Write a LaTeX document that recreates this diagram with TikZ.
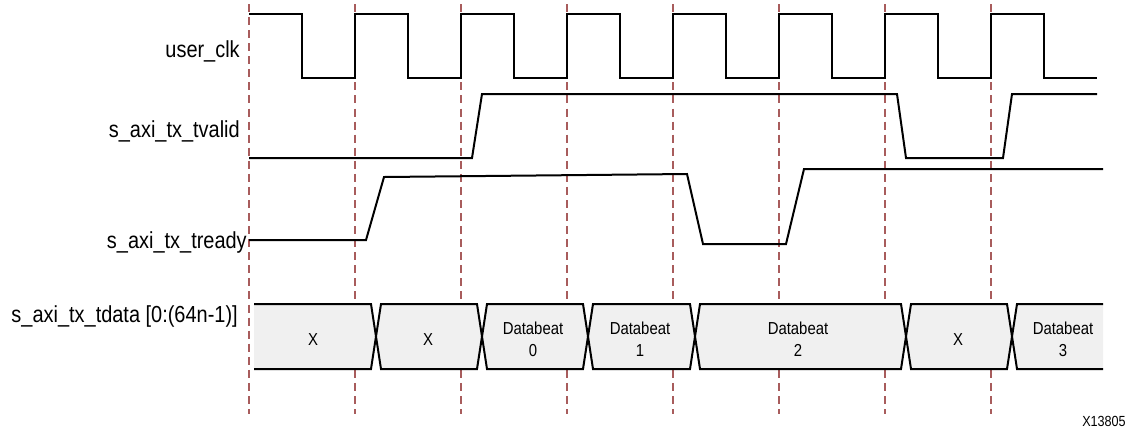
\documentclass[tikz,border=0pt]{standalone}
\usepackage{fontspec}
\setmainfont{Liberation Sans}
\newfontfamily\narrowsans[FakeStretch=0.86]{Liberation Sans}
\definecolor{gridred}{RGB}{168,92,92}
\definecolor{busgray}{RGB}{240,240,240}
\tikzset{
  gridline/.style={gridred, line width=0.8pt, dash pattern=on 6pt off 3.8pt},
  sig/.style={black, line width=1.5pt, line join=miter},
  busline/.style={black, line width=1.5pt, line join=miter},
  busfill/.style={fill=busgray, draw=none},
  lbl/.style={font=\narrowsans\fontsize{17.4}{20}\selectfont, inner sep=0pt, anchor=base east},
  btxt/.style={font=\narrowsans\fontsize{13}{16.5}\selectfont, align=center, inner sep=0pt},
  tag/.style={font=\narrowsans\fontsize{11}{12}\selectfont, inner sep=0pt, anchor=east},
}
\begin{document}
\begin{tikzpicture}[x=0.75pt, y=-0.75pt]
\path[use as bounding box] (0,0) rectangle (1134,433);
% dashed clock grid
\foreach \gx in {249,355,461,567,673,779,885,991}
  \draw[gridline] (\gx,4) -- (\gx,414);
% labels
\node[lbl] (lclk) at (240,57) {user\_clk};
\node[lbl] (lvalid) at (240,137) {s\_axi\_tx\_tvalid};
\node[lbl] (lready) at (247,248) {s\_axi\_tx\_tready};
\node[lbl] (ldata) at (238,322) {s\_axi\_tx\_tdata [0:(64n-1)]};
% clock
\draw[sig] (249,14)
  \foreach \k in {0,...,6} {
    -- ({302+106*\k},14) -- ({302+106*\k},78) -- ({355+106*\k},78) -- ({355+106*\k},14)
  }
  -- (1044,14) -- (1044,78) -- (1097,78);
% valid
\draw[sig] (249,158) -- (472,158) -- (482,94) -- (897,94) -- (906,158) -- (1003,158) -- (1012,94) -- (1097,94);
% ready
\draw[sig] (249,240) -- (366,240) -- (384,177) -- (687,174) -- (703,244) -- (786,244) -- (804,169) -- (1103,169);
% bus
\def\bt{304}\def\bb{369}\def\bm{336.5}
% first segment (open left)
\fill[busfill] (254,\bt) -- (371,\bt) -- (376,\bm) -- (371,\bb) -- (254,\bb) -- cycle;
\draw[busline] (254,\bt) -- (371,\bt) -- (376,\bm) -- (371,\bb) -- (254,\bb);
% middle segments
\foreach \a/\b in {376/482,482/588,588/695,695/906,906/1012} {
  \filldraw[busline, fill=busgray] (\a,\bm) -- ({\a+5},\bt) -- ({\b-5},\bt) -- (\b,\bm) -- ({\b-5},\bb) -- ({\a+5},\bb) -- cycle;
}
% last segment (open right)
\fill[busfill] (1012,\bm) -- (1017,\bt) -- (1103,\bt) -- (1103,\bb) -- (1017,\bb) -- cycle;
\draw[busline] (1103,\bt) -- (1017,\bt) -- (1012,\bm) -- (1017,\bb) -- (1103,\bb);
% bus texts
\node[btxt] (d1) at (313,340) {X};
\node[btxt] (d2) at (428,340) {X};
\node[btxt] (d3) at (533,339) {Databeat\\0};
\node[btxt] (d4) at (640,339) {Databeat\\1};
\node[btxt] (d5) at (798,339) {Databeat\\2};
\node[btxt] (d6) at (958,340) {X};
\node[btxt] (d7) at (1063,339) {Databeat\\3};
\node[tag] (fig) at (1126,421) {X13805};
\end{tikzpicture}
\end{document}
